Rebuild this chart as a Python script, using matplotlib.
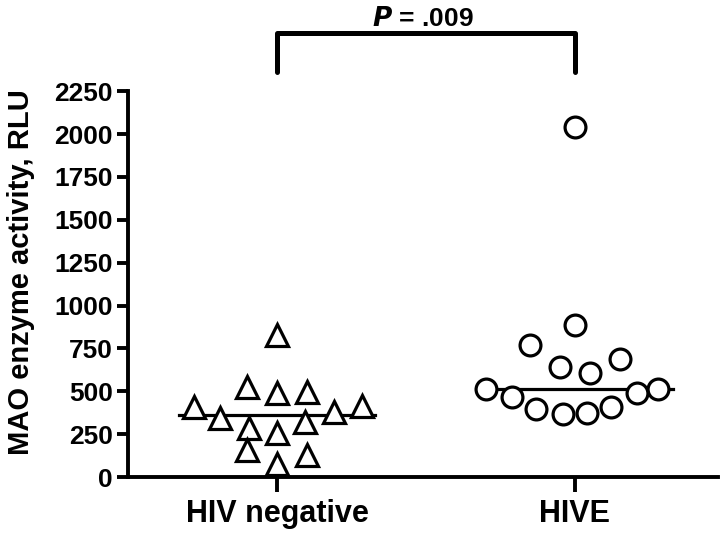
import matplotlib.pyplot as plt
import numpy as np

plt.rcParams['font.family'] = ['Liberation Sans', 'DejaVu Sans']
plt.rcParams['font.weight'] = 'bold'

# Categorias y valores
groups = ['HIV negative', 'HIVE']

hiv_neg_values = [827, 524, 490, 495, 408, 344, 379, 414, 285, 320, 256, 157, 128, 76]
hiv_neg_jitter = [0.0, -0.10, 0.0, 0.10, -0.28, -0.19, 0.19, 0.285, -0.095, 0.095, 0.0, -0.10, 0.10, 0.0]

hive_values = [2040, 886, 769, 641, 606, 690, 513, 513, 466, 396, 367, 373, 408, 490]
hive_jitter = [0.0, 0.0, -0.15, -0.05, 0.05, 0.15, -0.30, 0.28, -0.21, -0.13, -0.04, 0.04, 0.12, 0.21]

y_ticks = [0, 250, 500, 750, 1000, 1250, 1500, 1750, 2000, 2250]
p_label = '$\\mathbfit{P}$ = .009'

fig = plt.figure(figsize=(7.2, 5.33), dpi=100)
ax = fig.add_axes([0.178, 0.105, 0.819, 0.724])

# Puntos de cada grupo
ax.plot(0 + np.array(hiv_neg_jitter), hiv_neg_values, linestyle='none', marker='^',
        markersize=16, markerfacecolor='white', markeredgecolor='black',
        markeredgewidth=2.3, zorder=3)
ax.plot(1 + np.array(hive_jitter), hive_values, linestyle='none', marker='o',
        markersize=15, markerfacecolor='white', markeredgecolor='black',
        markeredgewidth=2.3, zorder=3)

# Lineas de mediana
for i, vals in enumerate([hiv_neg_values, hive_values]):
    med = np.median(vals)
    ax.plot([i - 0.33, i + 0.33], [med, med], color='black', lw=2.3, zorder=2)

# Corchete con el valor P
yb_low, yb_top = 2360, 2590
ax.plot([0, 0, 1, 1], [yb_low, yb_top, yb_top, yb_low], color='black', lw=3.6,
        solid_capstyle='round', clip_on=False)
ax.text(0.49, 2630, p_label, ha='center', va='baseline', fontsize=19,
        fontweight='bold')

ax.set_xlim(-0.5, 1.48)
ax.set_ylim(0, 2250)
ax.set_xticks([0, 1])
ax.set_xticklabels(groups, fontsize=22, fontweight='bold')
ax.set_yticks(y_ticks)
ax.set_yticklabels([str(t) for t in y_ticks], fontsize=19, fontweight='bold')
ax.set_ylabel('MAO enzyme activity, RLU', fontsize=21, fontweight='bold',
              labelpad=14, y=0.53)

for side in ['top', 'right']:
    ax.spines[side].set_visible(False)
for side in ['left', 'bottom']:
    ax.spines[side].set_linewidth(2.8)
ax.tick_params(axis='x', width=2.8, length=11, direction='out', pad=5)
ax.tick_params(axis='y', width=2.8, length=8, direction='out', pad=3)

fig.savefig('out.png', dpi=100)
